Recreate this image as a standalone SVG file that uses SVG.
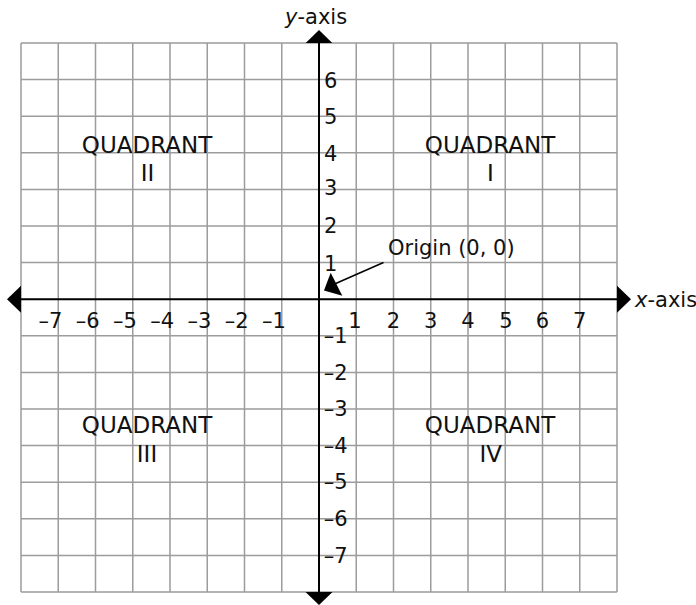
<svg xmlns="http://www.w3.org/2000/svg" width="696" height="605" viewBox="0 0 696 605">
<style>
.g{stroke:#9c9c9c;stroke-width:1.5;fill:none}
.ax{stroke:#000;stroke-width:2;fill:none}
.ah{fill:#000;stroke:none}
text{font-family:"DejaVu Sans","Liberation Sans",sans-serif;font-size:21px;fill:#111}
.q{font-size:23px;text-anchor:middle}
.xn{text-anchor:end}
.xp{text-anchor:middle}
.it{font-style:italic}
</style>
<rect width="696" height="605" fill="#fff"/>
<g id="grid" class="g">
<path d="M21 43V592M58.25 43V592M95.5 43V592M132.75 43V592M170 43V592M207.25 43V592M244.5 43V592M281.75 43V592M356.25 43V592M393.5 43V592M430.75 43V592M468 43V592M505.25 43V592M542.5 43V592M579.75 43V592M617 43V592"/>
<path d="M21 43H617M21 79.6H617M21 116.2H617M21 152.8H617M21 189.4H617M21 226H617M21 262.6H617M21 335.8H617M21 372.4H617M21 409H617M21 445.6H617M21 482.2H617M21 518.8H617M21 555.4H617M21 592H617"/>
</g>
<g id="connectors">
<g id="x-axis-line">
<line class="ax" x1="21" y1="299.2" x2="617" y2="299.2"/>
<polygon class="ah" points="7,299.2 21,285.7 21,312.7"/>
<polygon class="ah" points="631,299.2 617,285.7 617,312.7"/>
</g>
<g id="y-axis-line">
<line class="ax" x1="319" y1="43" x2="319" y2="592"/>
<polygon class="ah" points="319,30 305.7,43 332.3,43"/>
<polygon class="ah" points="319,605 305.5,592 332.5,592"/>
</g>
<g id="origin-pointer">
<line x1="383.5" y1="262.5" x2="334" y2="284.3" stroke="#000" stroke-width="1.5"/>
<polygon class="ah" points="324,290.5 330.7,272.7 342.3,295.7"/>
</g>
</g>
<g id="label-y-axis"><text x="285" y="23.5"><tspan class="it">y</tspan>-axis</text></g>
<g id="label-x-axis"><text x="635" y="306.7"><tspan class="it">x</tspan>-axis</text></g>
<g id="label-origin"><text x="388" y="255">Origin (0, 0)</text></g>
<g id="quadrant-1"><text class="q" x="490" y="152.7">QUADRANT</text><text class="q" x="490.5" y="180.7">I</text></g>
<g id="quadrant-2"><text class="q" x="147" y="152.7">QUADRANT</text><text class="q" x="147.5" y="180.7">II</text></g>
<g id="quadrant-3"><text class="q" x="147" y="433.3">QUADRANT</text><text class="q" x="147" y="461.7">III</text></g>
<g id="quadrant-4"><text class="q" x="490" y="433.3">QUADRANT</text><text class="q" x="490.8" y="461.7">IV</text></g>
<g id="x-ticks">
<text class="xn" x="62.25" y="328">–7</text>
<text class="xn" x="99.5" y="328">–6</text>
<text class="xn" x="136.75" y="328">–5</text>
<text class="xn" x="174" y="328">–4</text>
<text class="xn" x="211.25" y="328">–3</text>
<text class="xn" x="248.5" y="328">–2</text>
<text class="xn" x="285.75" y="328">–1</text>
<text class="xp" x="355" y="328">1</text>
<text class="xp" x="393.5" y="328">2</text>
<text class="xp" x="430.75" y="328">3</text>
<text class="xp" x="468" y="328">4</text>
<text class="xp" x="506" y="328">5</text>
<text class="xp" x="542.5" y="328">6</text>
<text class="xp" x="579.75" y="328">7</text>
</g>
<g id="y-ticks">
<text x="324" y="87.5">6</text>
<text x="324" y="124">5</text>
<text x="324" y="160.5">4</text>
<text x="324" y="195">3</text>
<text x="324" y="233">2</text>
<text x="324" y="270.5">1</text>
<text x="323.7" y="343">–1</text>
<text x="323.7" y="379.5">–2</text>
<text x="323.7" y="416">–3</text>
<text x="323.7" y="452.5">–4</text>
<text x="323.7" y="489">–5</text>
<text x="323.7" y="526">–6</text>
<text x="323.7" y="562.5">–7</text>
</g>
</svg>
